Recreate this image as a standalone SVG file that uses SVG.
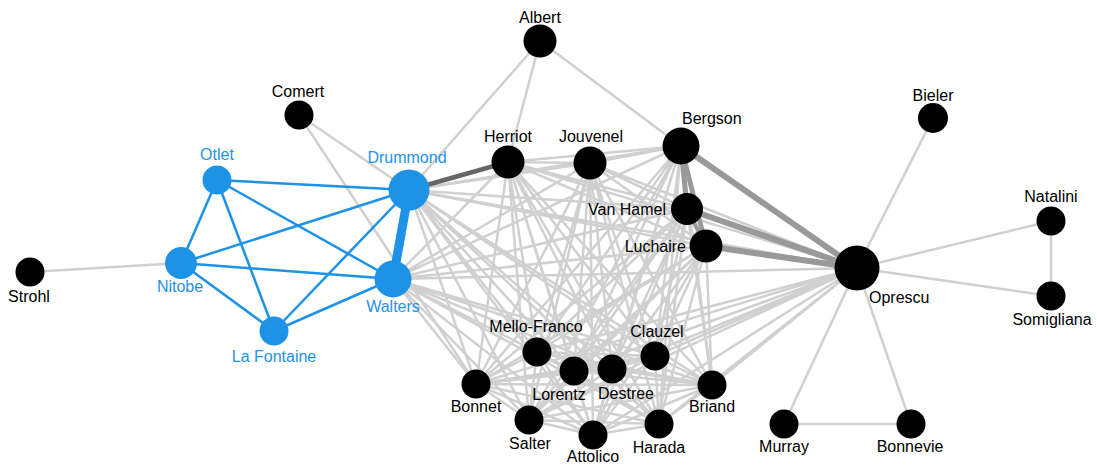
<svg xmlns="http://www.w3.org/2000/svg" width="1097" height="465" viewBox="0 0 1097 465">
<style>
.e{stroke:#d0d0d0;stroke-width:2.5;fill:none}
.eb{stroke:#1e92e6;stroke-width:2.5}
.ed{stroke:#666;stroke-width:4.5}
.em{stroke:#999;stroke-width:6}
.n{fill:#000}
.nb{fill:#1e92e6}
text{font-family:"Liberation Sans",Arial,sans-serif;font-size:16px;fill:#000;text-anchor:middle}
.tb{fill:#1e92e6}
</style>
<rect width="1097" height="465" fill="#fff"/>
<g id="connectors">
<g id="light">
<line class="e" x1="30" y1="272" x2="181" y2="263"/>
<line class="e" x1="299" y1="115" x2="409" y2="190"/>
<line class="e" x1="299" y1="115" x2="476" y2="384"/>
<line class="e" x1="540" y1="41" x2="409" y2="190"/>
<line class="e" x1="540" y1="41" x2="508" y2="162"/>
<line class="e" x1="540" y1="41" x2="681" y2="146"/>
<line class="e" x1="933" y1="118" x2="857" y2="268"/>
<line class="e" x1="1051" y1="221" x2="857" y2="268"/>
<line class="e" x1="1051" y1="296" x2="857" y2="268"/>
<line class="e" x1="1051" y1="221" x2="1051" y2="296"/>
<line class="e" x1="784" y1="424" x2="857" y2="268"/>
<line class="e" x1="911" y1="424" x2="857" y2="268"/>
<line class="e" x1="784" y1="424" x2="911" y2="424"/>
<path class="e" d="M409 190L590 163M409 190L681 146M409 190L687 209M409 190L706 246M409 190L857 268M409 190L537 352M409 190L574 371M409 190L612 369M409 190L655 356M409 190L476 384M409 190L712 385M409 190L529 420M409 190L593 435M409 190L659 424"/>
<path class="e" d="M393 279L508 162M393 279L590 163M393 279L681 146M393 279L687 209M393 279L706 246M393 279L857 268M393 279L537 352M393 279L574 371M393 279L612 369M393 279L655 356M393 279L476 384M393 279L712 385M393 279L529 420M393 279L593 435M393 279L659 424"/>
<path class="e" d="M508 162L590 163M508 162L681 146M508 162L687 209M508 162L706 246M508 162L857 268M508 162L537 352M508 162L574 371M508 162L612 369M508 162L655 356M508 162L476 384M508 162L712 385M508 162L529 420M508 162L593 435M508 162L659 424"/>
<path class="e" d="M590 163L681 146M590 163L687 209M590 163L706 246M590 163L857 268M590 163L537 352M590 163L574 371M590 163L612 369M590 163L655 356M590 163L476 384M590 163L712 385M590 163L529 420M590 163L593 435M590 163L659 424"/>
<path class="e" d="M681 146L537 352M681 146L574 371M681 146L612 369M681 146L655 356M681 146L476 384M681 146L712 385M681 146L529 420M681 146L593 435M681 146L659 424"/>
<path class="e" d="M687 209L537 352M687 209L574 371M687 209L612 369M687 209L655 356M687 209L476 384M687 209L712 385M687 209L529 420M687 209L593 435M687 209L659 424"/>
<path class="e" d="M706 246L537 352M706 246L574 371M706 246L612 369M706 246L655 356M706 246L476 384M706 246L712 385M706 246L529 420M706 246L593 435M706 246L659 424"/>
<path class="e" d="M857 268L537 352M857 268L574 371M857 268L612 369M857 268L655 356M857 268L476 384M857 268L712 385M857 268L529 420M857 268L593 435M857 268L659 424"/>
<path class="e" d="M537 352L574 371M537 352L612 369M537 352L655 356M537 352L476 384M537 352L712 385M537 352L529 420M537 352L593 435M537 352L659 424"/>
<path class="e" d="M574 371L612 369M574 371L655 356M574 371L476 384M574 371L712 385M574 371L529 420M574 371L593 435M574 371L659 424"/>
<path class="e" d="M612 369L655 356M612 369L476 384M612 369L712 385M612 369L529 420M612 369L593 435M612 369L659 424"/>
<path class="e" d="M655 356L476 384M655 356L712 385M655 356L529 420M655 356L593 435M655 356L659 424"/>
<path class="e" d="M476 384L712 385M476 384L529 420M476 384L593 435M476 384L659 424"/>
<path class="e" d="M712 385L529 420M712 385L593 435M712 385L659 424"/>
<path class="e" d="M529 420L593 435M529 420L659 424M593 435L659 424"/>
</g>
<g id="strong">
<line class="em" x1="687" y1="209" x2="706" y2="246" style="stroke-width:4"/>
<line class="em" x1="681" y1="146" x2="687" y2="209" style="stroke-width:5"/>
<line class="em" x1="681" y1="146" x2="706" y2="246" style="stroke-width:5"/>
<line class="em" x1="681" y1="146" x2="857" y2="268"/>
<line class="em" x1="687" y1="209" x2="857" y2="268"/>
<line class="em" x1="706" y1="246" x2="857" y2="268"/>
<line class="ed" x1="409" y1="190" x2="508" y2="162"/>
</g>
<g id="blue">
<line class="eb" x1="217" y1="180" x2="181" y2="263"/>
<line class="eb" x1="217" y1="180" x2="274" y2="331"/>
<line class="eb" x1="217" y1="180" x2="409" y2="190"/>
<line class="eb" x1="217" y1="180" x2="393" y2="279"/>
<line class="eb" x1="181" y1="263" x2="274" y2="331"/>
<line class="eb" x1="181" y1="263" x2="409" y2="190"/>
<line class="eb" x1="181" y1="263" x2="393" y2="279"/>
<line class="eb" x1="274" y1="331" x2="409" y2="190"/>
<line class="eb" x1="274" y1="331" x2="393" y2="279"/>
<line class="eb" x1="409" y1="190" x2="393" y2="279" style="stroke-width:9"/>
</g>
</g>
<g id="Albert"><circle class="n" cx="540" cy="41" r="16.5"/><text x="540" y="23">Albert</text></g>
<g id="Comert"><circle class="n" cx="299" cy="115" r="14.5"/><text x="298" y="97">Comert</text></g>
<g id="Bieler"><circle class="n" cx="933" cy="118" r="15"/><text x="933" y="101">Bieler</text></g>
<g id="Otlet"><circle class="nb" cx="217" cy="180" r="14.5"/><text class="tb" x="217" y="160">Otlet</text></g>
<g id="Herriot"><circle class="n" cx="508" cy="162" r="16.5"/><text x="508" y="142">Herriot</text></g>
<g id="Jouvenel"><circle class="n" cx="590" cy="163" r="16.5"/><text x="591" y="142">Jouvenel</text></g>
<g id="Bergson"><circle class="n" cx="681" cy="146" r="18.5"/><text x="682" y="124" style="text-anchor:start">Bergson</text></g>
<g id="Drummond"><circle class="nb" cx="409" cy="190" r="20.5"/><text class="tb" x="407" y="163">Drummond</text></g>
<g id="VanHamel"><circle class="n" cx="687" cy="209" r="16"/><text x="666" y="215" style="text-anchor:end">Van Hamel</text></g>
<g id="Luchaire"><circle class="n" cx="706" cy="246" r="16.5"/><text x="686" y="252" style="text-anchor:end">Luchaire</text></g>
<g id="Natalini"><circle class="n" cx="1051" cy="221" r="14.5"/><text x="1051" y="202">Natalini</text></g>
<g id="Oprescu"><circle class="n" cx="857" cy="268" r="22.5"/><text x="869" y="303" style="text-anchor:start">Oprescu</text></g>
<g id="Strohl"><circle class="n" cx="30" cy="272" r="14.5"/><text x="29" y="302">Strohl</text></g>
<g id="Nitobe"><circle class="nb" cx="181" cy="263" r="16"/><text class="tb" x="180" y="292">Nitobe</text></g>
<g id="Walters"><circle class="nb" cx="393" cy="279" r="18.5"/><text class="tb" x="393" y="312">Walters</text></g>
<g id="Somigliana"><circle class="n" cx="1051" cy="296" r="14.5"/><text x="1052" y="325">Somigliana</text></g>
<g id="LaFontaine"><circle class="nb" cx="274" cy="331" r="14.5"/><text class="tb" x="274" y="362">La Fontaine</text></g>
<g id="MelloFranco"><circle class="n" cx="537" cy="352" r="14.5"/><text x="536" y="332">Mello-Franco</text></g>
<g id="Clauzel"><circle class="n" cx="655" cy="356" r="14.5"/><text x="657" y="337">Clauzel</text></g>
<g id="Lorentz"><circle class="n" cx="574" cy="371" r="14.5"/><text x="559" y="400">Lorentz</text></g>
<g id="Destree"><circle class="n" cx="612" cy="369" r="14.5"/><text x="626" y="399">Destree</text></g>
<g id="Bonnet"><circle class="n" cx="476" cy="384" r="14.5"/><text x="476" y="412">Bonnet</text></g>
<g id="Briand"><circle class="n" cx="712" cy="385" r="14.5"/><text x="712" y="412">Briand</text></g>
<g id="Salter"><circle class="n" cx="529" cy="420" r="14.5"/><text x="530" y="449">Salter</text></g>
<g id="Attolico"><circle class="n" cx="593" cy="435" r="14.5"/><text x="593" y="462">Attolico</text></g>
<g id="Harada"><circle class="n" cx="659" cy="424" r="14.5"/><text x="659" y="453">Harada</text></g>
<g id="Murray"><circle class="n" cx="784" cy="424" r="14.5"/><text x="784" y="452">Murray</text></g>
<g id="Bonnevie"><circle class="n" cx="911" cy="424" r="14.5"/><text x="910" y="452">Bonnevie</text></g>
</svg>
